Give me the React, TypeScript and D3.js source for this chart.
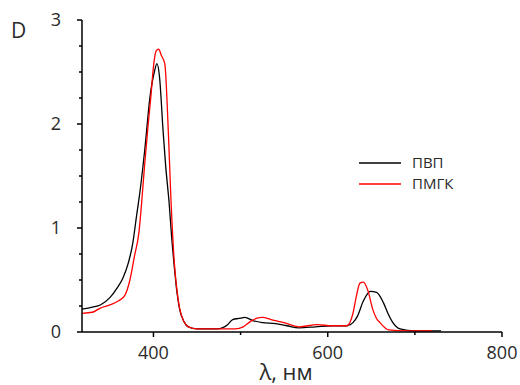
import React from "react";
import * as d3 from "d3";

const pvpLambda = [318, 330, 339, 350, 358, 365, 371, 376, 381, 385, 390, 396, 401, 404, 407, 411, 414, 418, 421, 424, 427, 430, 435, 440, 450, 460, 473, 485, 491, 498, 505, 514, 525, 540, 553, 567, 586, 605, 622, 629, 634, 641, 649, 656, 664, 669, 674, 683, 700, 730];
const pvpD = [0.22, 0.24, 0.26, 0.33, 0.42, 0.52, 0.66, 0.84, 1.14, 1.38, 1.75, 2.26, 2.5, 2.58, 2.45, 1.94, 1.6, 1.24, 0.9, 0.62, 0.38, 0.22, 0.1, 0.05, 0.03, 0.03, 0.03, 0.07, 0.12, 0.13, 0.14, 0.11, 0.09, 0.08, 0.06, 0.04, 0.05, 0.06, 0.06, 0.09, 0.15, 0.3, 0.39, 0.38, 0.28, 0.18, 0.1, 0.03, 0.01, 0.01];

const pmgkLambda = [318, 330, 339, 350, 360, 367, 373, 378, 383.5, 387, 390, 394, 397, 400, 403, 406, 409, 413, 417, 420, 424, 427, 430, 435, 440, 450, 470, 494, 503, 511, 518, 525, 535, 550, 567, 588, 605, 622, 629, 633, 637, 641, 646, 652, 656, 660, 670, 690, 720];
const pmgkD = [0.18, 0.19, 0.23, 0.26, 0.3, 0.35, 0.5, 0.72, 0.97, 1.3, 1.62, 2.0, 2.26, 2.55, 2.7, 2.72, 2.66, 2.58, 1.94, 1.29, 0.66, 0.4, 0.23, 0.1, 0.05, 0.03, 0.03, 0.03, 0.05, 0.1, 0.13, 0.14, 0.12, 0.09, 0.05, 0.07, 0.06, 0.06, 0.18, 0.35, 0.47, 0.48, 0.4, 0.21, 0.13, 0.09, 0.02, 0.01, 0.01];

const xMajorTicks = [400, 600, 800];
const xMinorTicks = [500, 700];
const yMajorTicks = [0, 1, 2, 3];
const yMinorTicks = [0.25, 0.5, 0.75, 1.25, 1.5, 1.75, 2.25, 2.5, 2.75];

const seriesNames = ["ПВП", "ПМГК"];
const seriesColors = ["#000000", "#ff0000"];

export default function App() {
  const W = 520;
  const H = 385;
  const x = d3.scaleLinear().domain([318, 800]).range([82, 502]);
  const y = d3.scaleLinear().domain([0, 3]).range([332, 20]);
  const line = d3
    .line<[number, number]>()
    .x((d) => x(d[0]))
    .y((d) => y(d[1]))
    .curve(d3.curveMonotoneX);

  const pvp: [number, number][] = pvpLambda.map((l, i) => [l, pvpD[i]]);
  const pmgk: [number, number][] = pmgkLambda.map((l, i) => [l, pmgkD[i]]);
  const font = "Open Sans, Liberation Sans, sans-serif";
  const textColor = "#2a2a2a";

  return (
    <svg
      width={W}
      height={H}
      style={{ position: "absolute", left: 0, top: 0, background: "#fff" }}
      fontFamily={font}
    >
      {/* curves */}
      <path d={line(pvp) || ""} fill="none" stroke={seriesColors[0]} strokeWidth={1.3} />
      <path d={line(pmgk) || ""} fill="none" stroke={seriesColors[1]} strokeWidth={1.3} />

      {/* axes */}
      <line x1={82} x2={82} y1={20} y2={332} stroke="#000" strokeWidth={1.5} />
      <line x1={82} x2={502} y1={332} y2={332} stroke="#000" strokeWidth={1.5} />

      {yMajorTicks.map((t) => (
        <g key={"ym" + t}>
          <line x1={77} x2={82} y1={y(t)} y2={y(t)} stroke="#000" strokeWidth={1.5} />
          <text x={61} y={y(t)} dy="0.35em" textAnchor="end" fontSize={18} fill={textColor}>
            {t}
          </text>
        </g>
      ))}
      {yMinorTicks.map((t) => (
        <line key={"yn" + t} x1={79} x2={82} y1={y(t)} y2={y(t)} stroke="#000" strokeWidth={1.5} />
      ))}
      {xMajorTicks.map((t) => (
        <g key={"xm" + t}>
          <line x1={x(t)} x2={x(t)} y1={332} y2={337} stroke="#000" strokeWidth={1.5} />
          <text x={x(t)} y={359} textAnchor="middle" fontSize={18} fill={textColor}>
            {t}
          </text>
        </g>
      ))}
      {xMinorTicks.map((t) => (
        <line key={"xn" + t} x1={x(t)} x2={x(t)} y1={332} y2={335} stroke="#000" strokeWidth={1.5} />
      ))}

      {/* axis titles */}
      <text x={11} y={38} fontSize={21} fill={textColor}>
        D
      </text>
      <text x={286} y={380} textAnchor="middle" fontSize={22} fill={textColor}>
        λ, нм
      </text>

      {/* legend */}
      {seriesNames.map((n, i) => (
        <g key={n}>
          <line x1={359} x2={401} y1={163 + i * 21} y2={163 + i * 21} stroke={seriesColors[i]} strokeWidth={1.3} />
          <text x={412} y={163 + i * 21} dy="0.35em" fontSize={15} fill={textColor}>
            {n}
          </text>
        </g>
      ))}
    </svg>
  );
}
